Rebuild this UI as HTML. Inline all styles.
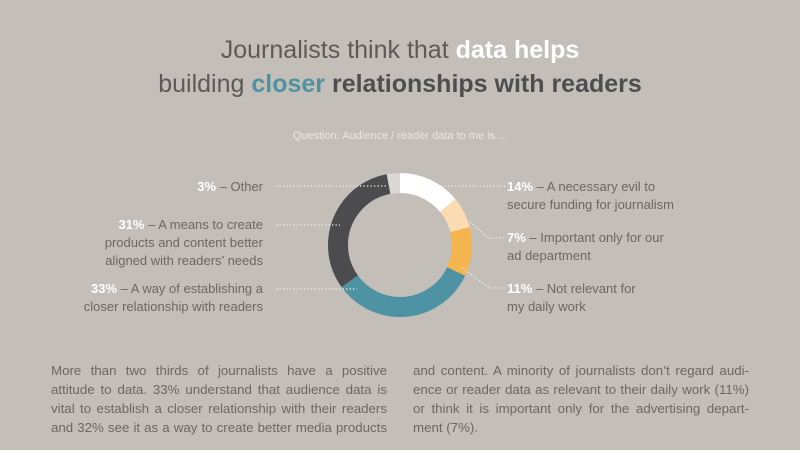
<!DOCTYPE html>
<html><head><meta charset="utf-8"><style>
body{margin:0;width:800px;height:450px;background:#c4beb8;font-family:"Liberation Sans",sans-serif;position:relative;overflow:hidden;color:#6b6764}
.t{position:absolute;white-space:nowrap}
.h{font-size:25px;left:0;width:800px;text-align:center;color:#5c5a59;font-weight:300}
.b{font-weight:bold}
.l{font-size:13px;right:537px;text-align:right;line-height:18px}
.r{font-size:13px;left:507px;line-height:18px}
.w{color:#fff;font-weight:bold}
.p{font-size:13.3px;line-height:19px;width:336px;text-align:justify;text-align-last:justify}
</style></head><body>
<div class="t h" style="top:36px">Journalists think that <span class="b" style="color:#fff">data helps</span></div>
<div class="t h" style="top:70px">building <span class="b" style="color:#4e93a3">closer</span> <span class="b" style="color:#4f4e4f">relationships with readers</span></div>
<div class="t" style="top:130px;left:0;width:800px;text-align:center;font-size:11px;color:#eae6e2">Question: Audience / reader data to me is ...</div>

<svg width="800" height="450" style="position:absolute;left:0;top:0">
<g transform="translate(400,245) rotate(-90)" fill="none" stroke-width="20">
<circle r="62" stroke="#ffffff" stroke-dasharray="54.5 400" stroke-dashoffset="0"/>
<circle r="62" stroke="#fbdcb2" stroke-dasharray="27.3 400" stroke-dashoffset="-54.5"/>
<circle r="62" stroke="#f5b54e" stroke-dasharray="42.9 400" stroke-dashoffset="-81.8"/>
<circle r="62" stroke="#4e93a3" stroke-dasharray="128.6 400" stroke-dashoffset="-124.7"/>
<circle r="62" stroke="#4c4c4e" stroke-dasharray="124.6 400" stroke-dashoffset="-253.3"/>
<circle r="62" stroke="#dad7d4" stroke-dasharray="11.7 400" stroke-dashoffset="-377.9"/>
</g>
<g stroke="#f3f0ec" stroke-width="1.3" stroke-dasharray="1.3 2.2" fill="none">
<path d="M276 186H388"/>
<path d="M276 225H340"/>
<path d="M276 289H357"/>
<path d="M420 186H505"/>
<path d="M470 222L488 238H505"/>
<path d="M462 268L490 288H505"/>
</g>
</svg>

<div class="t l" style="top:178px"><span class="w">3%</span> – Other</div>
<div class="t l" style="top:216px"><span class="w">31%</span> – A means to create<br>products and content better<br>aligned with readers’ needs</div>
<div class="t l" style="top:280px"><span class="w">33%</span> – A way of establishing a<br>closer relationship with readers</div>
<div class="t r" style="top:178px"><span class="w">14%</span> – A necessary evil to<br>secure funding for journalism</div>
<div class="t r" style="top:229px"><span class="w">7%</span> – Important only for our<br>ad department</div>
<div class="t r" style="top:280px"><span class="w">11%</span> – Not relevant for<br>my daily work</div>

<div class="t p" style="top:361px;left:51px">More than two thirds of journalists have a positive</div>
<div class="t p" style="top:380px;left:51px">attitude to data. 33% understand that audience data is</div>
<div class="t p" style="top:399px;left:51px">vital to establish a closer relationship with their readers</div>
<div class="t p" style="top:418px;left:51px">and 32% see it as a way to create better media products</div>
<div class="t p" style="top:361px;left:413px">and content. A minority of journalists don’t regard audi-</div>
<div class="t p" style="top:380px;left:413px">ence or reader data as relevant to their daily work (11%)</div>
<div class="t p" style="top:399px;left:413px">or think it is important only for the advertising depart-</div>
<div class="t" style="top:418px;left:413px;font-size:13.3px;line-height:19px">ment (7%).</div>
</body></html>
